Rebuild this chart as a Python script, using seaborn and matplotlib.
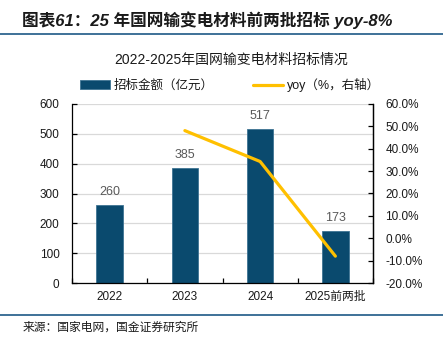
import matplotlib
matplotlib.use("Agg")
import matplotlib.pyplot as plt
from matplotlib.lines import Line2D
from matplotlib.patches import Patch
from matplotlib.ticker import MultipleLocator, FixedLocator, FuncFormatter
import seaborn as sns
import pandas as pd

# ---- data ----
categories = ["2022", "2023", "2024", "2025前两批"]
amounts = [260, 385, 517, 173]               # 招标金额（亿元）
yoy_categories = ["2023", "2024", "2025前两批"]
yoy_values = [48.1, 34.3, -8.0]              # 同比（%）

bar_label = "招标金额（亿元）"
line_label = "yoy（%，右轴）"
fig_title = "图表61：25 年国网输变电材料前两批招标 yoy-8%"
chart_title = "2022-2025年国网输变电材料招标情况"
source_text = "来源：国家电网，国金证券研究所"

sns.set_theme(style="white")
FAM = ["Liberation Sans", "Noto Sans CJK SC", "DejaVu Sans"]
plt.rcParams["font.family"] = FAM
plt.rcParams["axes.unicode_minus"] = False

BAR = "#0A4A6E"
LINE = "#FFC000"
RULE = "#2F6690"
TXT = "#1A1A1A"

W, H = 443, 338
fig = plt.figure(figsize=(W / 100, H / 100), dpi=100)
fig.patch.set_facecolor("white")

ax = fig.add_axes([72 / W, 1 - 283 / H, 301 / W, 179 / H])
df = pd.DataFrame({"cat": categories, "amt": amounts})
sns.barplot(data=df, x="cat", y="amt", color=BAR, width=0.35, saturation=1,
            edgecolor="#3E7393", linewidth=0.6, ax=ax)

ax.set_xlim(-0.5, len(categories) - 0.5)
ax.set_ylim(0, 600)
ax.yaxis.set_major_locator(MultipleLocator(100))
ax.set_xlabel("")
ax.set_ylabel("")
ax.grid(axis="y", color="#D9D9D9", linewidth=0.9)
ax.set_axisbelow(True)
for s in ["top"]:
    ax.spines[s].set_visible(False)
for s in ["left", "bottom", "right"]:
    ax.spines[s].set_color("black")
    ax.spines[s].set_linewidth(0.9)

ax.tick_params(axis="y", which="major", direction="in", length=3.5, width=0.9,
               color="black", labelsize=8.5, labelcolor=TXT, pad=9)
ax.tick_params(axis="x", which="major", length=0, labelsize=8.5,
               labelcolor=TXT, pad=6)
ax.xaxis.set_minor_locator(FixedLocator([i - 0.5 for i in range(len(categories) + 1)]))
ax.tick_params(axis="x", which="minor", direction="in", length=3.5, width=0.9,
               color="black", bottom=True)
for lab in ax.get_xticklabels():
    lab.set_family(FAM)

# value labels above bars
for c in ax.containers:
    ax.bar_label(c, labels=[f"{v:g}" for v in amounts], padding=5,
                 fontsize=9, color="#595959")

# yoy line on the right axis
ax2 = ax.twinx()
xpos = [categories.index(c) for c in yoy_categories]
sns.lineplot(x=xpos, y=yoy_values, color=LINE, linewidth=2.3, ax=ax2,
             solid_capstyle="round")
ax2.set_ylim(-20, 60)
ax2.yaxis.set_major_locator(MultipleLocator(10))
ax2.yaxis.set_major_formatter(FuncFormatter(lambda v, p: f"{v:.1f}%"))
ax2.tick_params(axis="y", direction="in", length=3.5, width=0.9, color="black",
                labelsize=8.5, labelcolor=TXT, pad=9)
ax2.grid(False)
for s in ["top", "left", "bottom"]:
    ax2.spines[s].set_visible(False)
ax2.spines["right"].set_color("black")
ax2.spines["right"].set_linewidth(0.9)
ax2.set_xlim(-0.5, len(categories) - 0.5)

# legend
handles = [Patch(facecolor=BAR, edgecolor="#3E7393", linewidth=0.6, label=bar_label),
           Line2D([0], [0], color=LINE, linewidth=2.3, label=line_label)]
fig.legend(handles=handles, loc="center", bbox_to_anchor=(230 / W, 1 - 85 / H),
           ncol=2, frameon=False, fontsize=9, handlelength=2.4,
           handleheight=0.7, columnspacing=3.2, handletextpad=0.3,
           labelcolor=TXT)

# titles, rules and source
fig.text(22 / W, 1 - 20 / H, fig_title, fontsize=12, fontweight="bold",
         fontstyle="italic", color=TXT, ha="left", va="center")
fig.add_artist(Line2D([0, 1], [1 - 34 / H, 1 - 34 / H], color=RULE, linewidth=1.3))
fig.text(231 / W, 1 - 60 / H, chart_title, fontsize=10, color=TXT,
         ha="center", va="center")
fig.add_artist(Line2D([0, 1], [1 - 315 / H, 1 - 315 / H], color=RULE, linewidth=1.3))
fig.text(23 / W, 1 - 328 / H, source_text, fontsize=8.5, color=TXT,
         ha="left", va="center")

fig.savefig("out.png", dpi=100, facecolor="white")
